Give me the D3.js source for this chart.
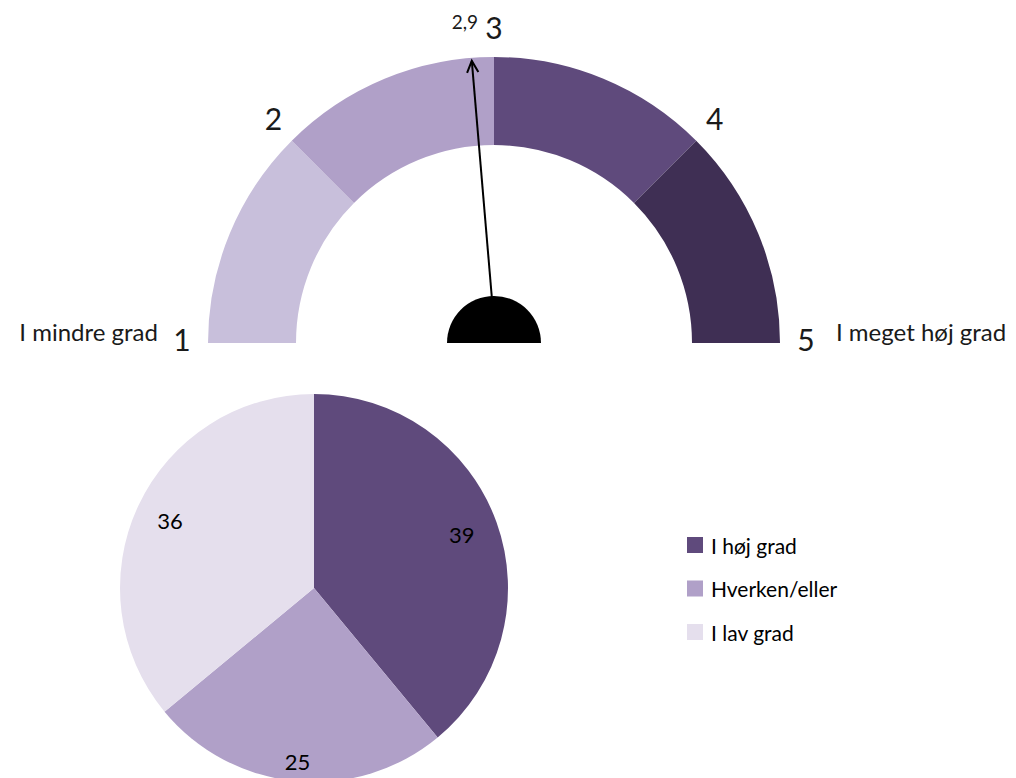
<!DOCTYPE html>
<html>
<head>
<meta charset="utf-8">
<script src="https://cdn.jsdelivr.net/npm/d3@7"></script>
<style>
  html, body { margin: 0; padding: 0; background: #fff; }
  svg { display: block; font-family: Lato, "Open Sans", sans-serif; }
</style>
</head>
<body>
<svg id="chart" width="1016" height="778"></svg>
<script>
// ---- Data ----
const gaugeTicks = [1, 2, 3, 4, 5];
const gaugeSegStart = [1, 2, 3, 4];
const gaugeSegEnd = [2, 3, 4, 5];
const gaugeValue = 2.9;
const gaugeValueLabel = "2,9";
const gaugeEndLabels = ["I mindre grad", "I meget høj grad"];

const pieCategories = ["I høj grad", "Hverken/eller", "I lav grad"];
const pieValues = [39, 25, 36];

// ---- Styles ----
const gaugeColors = ["#c8bfdb", "#b0a0c8", "#5f4a7c", "#3f2f54"];
const pieColors = ["#5f4a7c", "#b0a0c8", "#e5dfed"];
const pieLabelRadius = [0.81, 0.9, 0.82];

const svg = d3.select("#chart");

// ---- Gauge ----
const gcx = 494, gcy = 343, gR = 286, gr = 198;
const angle = d3.scaleLinear().domain([1, 5]).range([-Math.PI / 2, Math.PI / 2]);
const gArc = d3.arc().innerRadius(gr).outerRadius(gR);
const gauge = svg.append("g").attr("transform", `translate(${gcx},${gcy})`);

gauge.selectAll("path.seg")
  .data(gaugeSegStart.map((s, i) => ({ s, e: gaugeSegEnd[i], i })))
  .join("path")
  .attr("class", "seg")
  .attr("d", d => gArc({ startAngle: angle(d.s), endAngle: angle(d.e) }))
  .attr("fill", d => gaugeColors[d.i]);

const polar = (a, r) => [r * Math.sin(a), -r * Math.cos(a)];

gauge.selectAll("text.tick")
  .data(gaugeTicks)
  .join("text")
  .attr("class", "tick")
  .attr("x", d => polar(angle(d), 312)[0])
  .attr("y", d => polar(angle(d), 312)[1] - 4)
  .attr("text-anchor", "middle")
  .attr("dominant-baseline", "central")
  .attr("font-size", 30)
  .attr("fill", "#1a1a1a")
  .text(d => d);

// end labels
gauge.append("text")
  .attr("x", -336).attr("y", -12)
  .attr("text-anchor", "end")
  .attr("dominant-baseline", "central")
  .attr("font-size", 24).attr("fill", "#1a1a1a")
  .text(gaugeEndLabels[0]);
gauge.append("text")
  .attr("x", 342).attr("y", -12)
  .attr("text-anchor", "start")
  .attr("dominant-baseline", "central")
  .attr("font-size", 24).attr("fill", "#1a1a1a")
  .text(gaugeEndLabels[1]);

// needle
const va = angle(gaugeValue);
const tip = polar(va, gR - 3);
gauge.append("line")
  .attr("x1", 0).attr("y1", -20)
  .attr("x2", tip[0]).attr("y2", tip[1])
  .attr("stroke", "#000").attr("stroke-width", 2);
// open arrow head
const headLen = 13, headAng = 0.45;
const back = va + Math.PI;
const w1 = [tip[0] + headLen * Math.sin(back - headAng), tip[1] - headLen * Math.cos(back - headAng)];
const w2 = [tip[0] + headLen * Math.sin(back + headAng), tip[1] - headLen * Math.cos(back + headAng)];
gauge.append("path")
  .attr("d", `M${w1[0]},${w1[1]}L${tip[0]},${tip[1]}L${w2[0]},${w2[1]}`)
  .attr("fill", "none").attr("stroke", "#000").attr("stroke-width", 2);

// hub
gauge.append("path")
  .attr("d", d3.arc().innerRadius(0).outerRadius(47)({ startAngle: -Math.PI / 2, endAngle: Math.PI / 2 }))
  .attr("fill", "#000");

// value label
const vl = polar(va, 320);
gauge.append("text")
  .attr("x", vl[0] - 4).attr("y", vl[1] - 3)
  .attr("text-anchor", "middle")
  .attr("dominant-baseline", "central")
  .attr("font-size", 19).attr("fill", "#1a1a1a")
  .text(gaugeValueLabel);

// ---- Pie ----
const pcx = 314, pcy = 588, pR = 194;
const pie = d3.pie().sort(null).value(d => d)(pieValues);
const pArc = d3.arc().innerRadius(0).outerRadius(pR);
const pg = svg.append("g").attr("transform", `translate(${pcx},${pcy})`);
pg.selectAll("path")
  .data(pie)
  .join("path")
  .attr("d", pArc)
  .attr("fill", (d, i) => pieColors[i]);
pg.selectAll("text")
  .data(pie)
  .join("text")
  .attr("x", (d, i) => polar((d.startAngle + d.endAngle) / 2, pR * pieLabelRadius[i])[0])
  .attr("y", (d, i) => polar((d.startAngle + d.endAngle) / 2, pR * pieLabelRadius[i])[1])
  .attr("text-anchor", "middle")
  .attr("dominant-baseline", "central")
  .attr("font-size", 22).attr("fill", "#000")
  .text(d => d.data);

// ---- Legend ----
const legend = svg.append("g").attr("transform", "translate(687,545)");
const rows = legend.selectAll("g")
  .data(pieCategories)
  .join("g")
  .attr("transform", (d, i) => `translate(0,${i * 43.5})`);
rows.append("rect")
  .attr("x", 0).attr("y", -8).attr("width", 16).attr("height", 16)
  .attr("fill", (d, i) => pieColors[i]);
rows.append("text")
  .attr("x", 24).attr("y", 0)
  .attr("dominant-baseline", "central")
  .attr("font-size", 21).attr("fill", "#000")
  .text(d => d);
</script>
</body>
</html>
